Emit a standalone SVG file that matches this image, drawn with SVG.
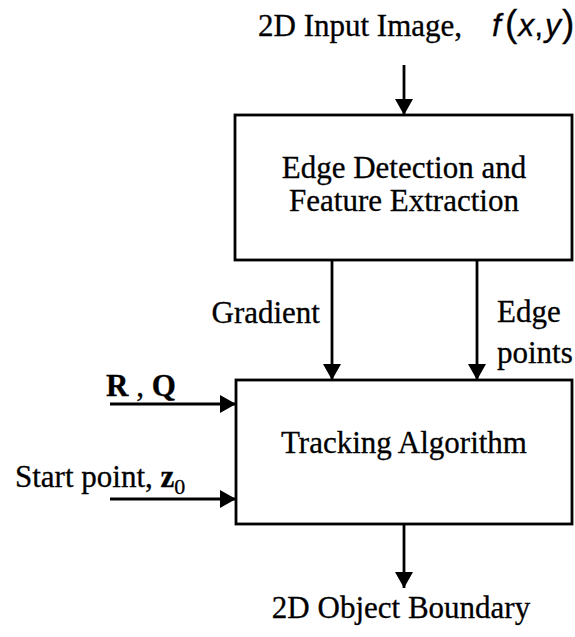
<svg xmlns="http://www.w3.org/2000/svg" width="575" height="637" viewBox="0 0 575 637">
<style>
.t{font-family:"Liberation Serif","Times New Roman",serif;font-size:31px;fill:#000;stroke:#000;stroke-width:0.3}
.s{font-family:"Liberation Sans",Arial,sans-serif;fill:#000}
.box{fill:#fff;stroke:#000;stroke-width:2.8}
.c{stroke:#000;stroke-width:2.8;fill:none;marker-end:url(#ah)}
</style>
<defs>
<marker id="ah" markerUnits="userSpaceOnUse" markerWidth="18" markerHeight="18" viewBox="0 0 16 18" refX="16" refY="9" orient="auto">
<path d="M0,0 L16,9 L0,18 Z" fill="#000"/>
</marker>
</defs>
<rect width="575" height="637" fill="#fff"/>
<g id="input-label">
<text class="t" x="258" y="36" font-size="32">2D Input Image, <tspan class="s" font-style="italic" font-size="32" x="492">f</tspan><tspan class="s" font-size="37" dx="4">(</tspan><tspan class="s" font-style="italic" font-size="32" dx="1">x</tspan><tspan class="s" font-size="32">,</tspan><tspan class="s" font-style="italic" font-size="32" dx="2">y</tspan><tspan class="s" font-size="37" dx="1">)</tspan></text>
</g>
<g id="edge-detection">
<rect class="box" x="235" y="115" width="337" height="145"/>
<text class="t" x="404" y="178" font-size="32" text-anchor="middle">Edge Detection and</text>
<text class="t" x="404" y="211" font-size="32" text-anchor="middle">Feature Extraction</text>
</g>
<g id="tracking">
<rect class="box" x="236" y="380" width="336" height="144"/>
<text class="t" x="404" y="453" font-size="32" text-anchor="middle">Tracking Algorithm</text>
</g>
<g id="output-label">
<text class="t" x="401" y="618" text-anchor="middle">2D Object Boundary</text>
</g>
<g id="rq-label">
<text class="t" x="106" y="396" font-weight="bold">R<tspan font-weight="normal"> , </tspan>Q</text>
</g>
<g id="start-label">
<text class="t" x="15" y="487">Start point, <tspan font-weight="bold">z</tspan><tspan font-size="22" dy="7">0</tspan></text>
</g>
<g id="connectors">
<line class="c" x1="404" y1="65" x2="404" y2="115"/>
<line class="c" x1="332" y1="260" x2="332" y2="380"/>
<line class="c" x1="477" y1="260" x2="477" y2="380"/>
<line class="c" x1="110" y1="404" x2="236" y2="404"/>
<line class="c" x1="110" y1="499" x2="236" y2="499"/>
<line class="c" x1="404" y1="524" x2="404" y2="588"/>
<text class="t" x="320" y="323" text-anchor="end">Gradient</text>
<text class="t" x="497" y="322">Edge</text>
<text class="t" x="497" y="363">points</text>
</g>
</svg>
